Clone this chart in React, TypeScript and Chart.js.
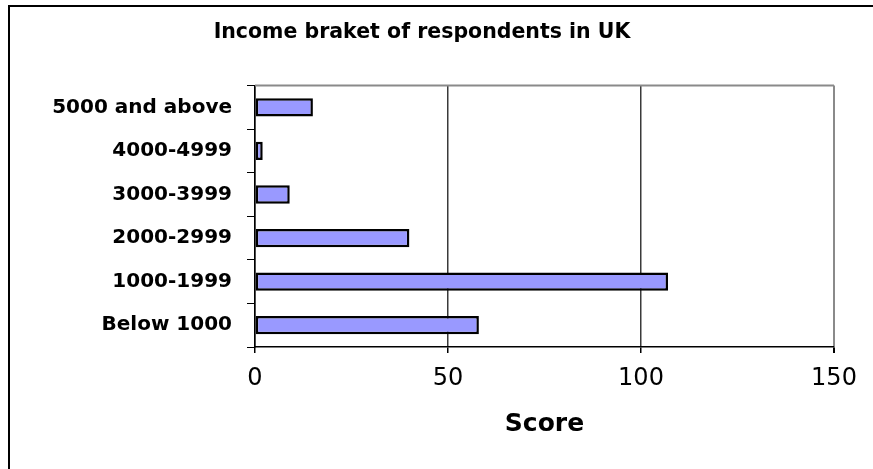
import React, { useEffect, useRef } from "react";
import { Chart, registerables } from "chart.js";

Chart.register(...registerables);

const categories: string[] = [
  "5000 and above",
  "4000-4999",
  "3000-3999",
  "2000-2999",
  "1000-1999",
  "Below 1000",
];
const scores: number[] = [15, 2, 9, 40, 107, 58];
const xTicks: number[] = [0, 50, 100, 150];
const chartTitle = "Income braket of respondents in UK";
const xAxisTitle = "Score";

const W = 863;
const H = 462;

const framePlugin = {
  id: "plotFrame",
  beforeDatasetsDraw(chart: any) {
    const { ctx, chartArea } = chart;
    ctx.save();
    ctx.strokeStyle = "#8a8a8a";
    ctx.lineWidth = 2;
    ctx.beginPath();
    ctx.moveTo(chartArea.left, chartArea.top);
    ctx.lineTo(chartArea.right, chartArea.top);
    ctx.stroke();
    ctx.restore();
  },
};

export default function App() {
  const ref = useRef<HTMLCanvasElement | null>(null);

  useEffect(() => {
    if (!ref.current) return;
    const chart = new Chart(ref.current, {
      type: "bar",
      data: {
        labels: categories,
        datasets: [
          {
            data: scores,
            backgroundColor: "#9999FF",
            borderColor: "#000000",
            borderWidth: 2.5,
            borderSkipped: false,
            barPercentage: 0.42,
            categoryPercentage: 1,
          },
        ],
      },
      options: {
        indexAxis: "y",
        responsive: false,
        maintainAspectRatio: false,
        animation: false,
        layout: { padding: { left: 0, right: 39, top: 0, bottom: 0 } },
        plugins: {
          legend: { display: false },
          tooltip: { enabled: false },
          title: {
            display: true,
            text: chartTitle,
            color: "#000",
            font: { family: "DejaVu Sans", size: 20.5, weight: "bold" },
            padding: { top: 13, bottom: 41 },
          },
        },
        scales: {
          x: {
            type: "linear",
            min: xTicks[0],
            max: xTicks[xTicks.length - 1],
            afterBuildTicks(scale: any) {
              scale.ticks = xTicks.map((v) => ({ value: v }));
            },
            afterFit(scale: any) {
              scale.height = H - 340;
            },
            grid: {
              drawOnChartArea: true,
              drawTicks: true,
              tickLength: 6,
              tickColor: "#000",
              color: (ctx: any) =>
                ctx.tick && ctx.tick.value === 150 ? "#8a8a8a" : "#3a3a3a",
              lineWidth: (ctx: any) =>
                ctx.tick && ctx.tick.value === 150 ? 2 : 1.5,
            },
            border: { display: true, color: "#000", width: 1.5 },
            ticks: {
              color: "#000",
              padding: 11,
              font: { family: "DejaVu Sans", size: 24 },
              maxRotation: 0,
            },
            title: {
              display: true,
              text: xAxisTitle,
              color: "#000",
              font: { family: "DejaVu Sans", size: 25, weight: "bold" },
              padding: { top: 0, bottom: 30 },
            },
          },
          y: {
            type: "category",
            afterFit(scale: any) {
              scale.width = 245;
            },
            grid: {
              drawOnChartArea: false,
              drawTicks: true,
              tickLength: 8,
              tickColor: "#000",
              offset: true,
            },
            border: { display: true, color: "#000", width: 1.5 },
            ticks: {
              color: "#000",
              padding: 15,
              autoSkip: false,
              font: { family: "DejaVu Sans", size: 20, weight: "bold" },
            },
          },
        },
      },
      plugins: [framePlugin],
    } as any);
    return () => chart.destroy();
  }, []);

  return (
    <div
      style={{
        position: "fixed",
        left: 8,
        top: 5,
        width: W,
        height: H,
        overflow: "hidden",
        borderTop: "2px solid #000",
        borderLeft: "2px solid #000",
        background: "#fff",
      }}
    >
      <canvas
        ref={ref}
        width={W}
        height={H}
        style={{ display: "block", width: W, height: H }}
      />
    </div>
  );
}
